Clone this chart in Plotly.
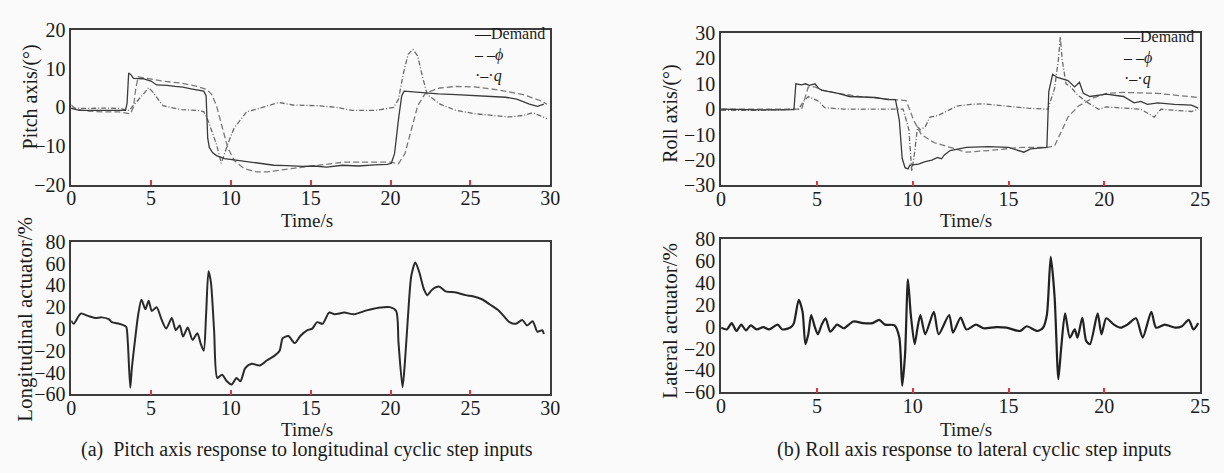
import plotly.graph_objects as go

W, H = 1224, 473

# ---------------- (a) pitch axis ----------------
pitch_demand_t = [0, 0.5, 1.5, 2.5, 3.4, 3.5, 3.6, 3.75, 3.9, 4.5, 5.0, 5.35, 6.0, 6.5, 7.0, 7.5, 8.0,
                  8.3, 8.45, 8.55, 8.65, 8.85, 9.1, 9.6, 10.2, 11.0, 12.0, 12.7, 13.5, 14.5, 15.2, 16.0,
                  17.0, 18.0, 19.0, 19.8, 20.05, 20.25, 20.5, 20.7, 20.85, 21.5, 22.0, 23.0, 24.1, 25.0,
                  26.2, 27.2, 27.9, 28.7, 29.2, 29.6]
pitch_demand = [-0.3, -0.8, -0.8, -0.9, -0.8, 1.0, 8.9, 8.4, 7.5, 7.4, 6.8, 5.8, 5.7, 5.4, 5.2, 4.8, 4.5,
                4.2, 3.0, -8.0, -10.4, -11.7, -12.5, -13.3, -13.6, -14.0, -14.6, -15.0, -15.1, -15.3, -15.2,
                -15.5, -15.0, -15.2, -14.9, -14.8, -14.5, -12.0, -3.0, 3.0, 4.2, 4.0, 3.75, 3.5, 3.3, 3.1,
                2.9, 2.6, 2.1, 0.8, 0.25, 0.8]

pitch_phi_t = [0, 0.3, 1, 2, 3, 3.7, 3.9, 4.05, 4.2, 4.7, 5.9, 6.9, 7.9, 8.5, 8.8, 9.1, 9.5, 9.8, 10.2,
               10.8, 11.6, 12.3, 13.9, 15.4, 17.1, 20.0, 20.5, 20.9, 21.3, 21.7, 22.2, 23.1, 24.1, 25.35,
               26.6, 28.3, 29.4, 29.8]
pitch_phi = [0.6, -0.5, -1.0, -1.2, -1.2, -1.7, 0.0, 5.0, 7.9, 7.5, 6.7, 6.25, 5.4, 4.6, 3.3, 0.4, -5.4,
             -10.4, -13.75, -15.8, -16.7, -16.7, -15.8, -15.0, -14.2, -14.2, -14.6, -12.0, -5.4, 0.4, 3.75,
             5.0, 5.4, 5.25, 4.6, 3.3, 1.7, 0.8]

pitch_q_t = [0, 1, 2, 3, 3.65, 3.87, 4.5, 4.85, 5.1, 5.75, 6.9, 7.9, 8.3, 8.6, 9.1, 9.4, 9.8, 10.2, 11.0,
             11.8, 13.0, 13.9, 15.4, 16.6, 17.6, 19.1, 20.2, 20.5, 20.8, 21.1, 21.4, 21.7, 22.0, 22.3,
             23.1, 24.1, 25.35, 26.2, 27.4, 28.3, 28.9, 29.8]
pitch_q = [-0.2, -0.3, -0.2, -0.3, -0.8, 0.4, 3.3, 5.1, 4.0, 0.4, -0.6, -0.8, -1.1, -3.75, -9.6, -14.5,
           -9.6, -5.4, -1.1, -0.25, 1.25, 0.6, 0.4, 0.0, -0.8, -0.8, 0.0, 2.1, 8.75, 13.75, 15.0, 13.3,
           7.9, 3.3, 0.8, -0.8, -1.7, -2.1, -2.5, -2.1, -1.4, -2.9]

long_act_t = [0, 0.15, 0.6, 1.05, 1.5, 1.9, 2.35, 2.55, 3.0, 3.3, 3.45, 3.55, 3.7, 3.8, 4.0, 4.2, 4.4,
              4.65, 4.85, 5.05, 5.35, 5.65, 5.95, 6.3, 6.55, 6.8, 7.0, 7.3, 7.6, 7.9, 8.1, 8.3, 8.45, 8.6,
              8.75, 8.95, 9.15, 9.45, 9.75, 10.05, 10.35, 10.6, 10.9, 11.3, 11.8, 12.25, 12.7, 13.05,
              13.25, 13.6, 14.0, 14.35, 14.8, 15.1, 15.4, 15.75, 16.15, 16.5, 17.1, 17.7, 18.5, 19.25,
              19.95, 20.35, 20.5, 20.75, 20.9, 21.1, 21.3, 21.55, 21.8, 22.1, 22.3, 22.6, 23.05, 23.45,
              24.1, 24.7, 25.15, 25.75, 26.2, 26.8, 27.45, 27.85, 28.25, 28.55, 28.9, 29.2, 29.5, 29.6]
long_act = [7.6, 4.7, 14.0, 12.0, 10.0, 10.6, 9.0, 6.2, 4.7, 3.2, 1.8, -13.0, -54.0, -36.0, -10.0, 13.5,
            26.8, 18.0, 25.9, 16.5, 20.0, 9.0, 0.3, 10.0, -1.2, 3.2, -7.0, 1.2, -10.0, -4.0, -13.0, -20.0,
            13.5, 53.0, 43.0, -1.2, -45.0, -42.0, -48.0, -51.0, -45.0, -48.0, -36.0, -32.0, -33.5, -29.0,
            -25.0, -20.0, -8.5, -6.5, -13.0, -6.5, -1.2, 0.3, 6.2, 4.7, 15.0, 13.5, 15.0, 13.5, 17.0, 19.4,
            20.0, 16.5, -13.0, -53.5, -30.6, 13.5, 48.8, 61.0, 52.0, 36.0, 31.0, 36.0, 38.8, 34.4, 33.5,
            31.0, 30.0, 27.0, 22.6, 16.5, 6.2, 4.7, 8.2, 3.2, 7.0, -2.6, -1.2, -4.7]

# ---------------- (b) roll axis ----------------
roll_demand_t = [0, 1, 2, 3, 3.8, 3.9, 4.2, 4.4, 4.6, 4.9, 5.1, 5.25, 6.1, 6.7, 8.05, 8.7, 9.1, 9.3, 9.45,
                 9.6, 9.75, 9.85, 10.3, 10.65, 11.0, 11.3, 11.5, 11.65, 11.95, 12.8, 13.95, 15.0, 15.45,
                 15.8, 16.15, 16.85, 17.0, 17.1, 17.3, 17.55, 18.1, 18.45, 18.7, 18.9, 19.25, 20.1, 21.0,
                 21.55, 21.9, 22.25, 22.8, 23.65, 24.55, 24.9]
roll_demand = [0.0, -0.2, -0.3, -0.3, -0.2, 10.0, 9.6, 10.0, 9.4, 10.0, 8.1, 7.5, 6.25, 5.0, 4.6, 3.75,
               3.75, -4.4, -19.4, -23.0, -23.5, -22.0, -21.6, -20.6, -20.0, -19.0, -19.5, -18.0, -16.25,
               -15.0, -14.75, -15.0, -16.0, -16.9, -15.6, -15.0, -15.0, 6.9, 13.75, 12.5, 11.25, 8.75,
               10.6, 6.25, 5.0, 5.9, 5.0, 2.5, 3.1, 1.9, 2.5, 1.9, 1.6, 0.4]

roll_phi_t = [0, 2, 4.2, 4.55, 4.9, 5.25, 6.1, 7.2, 9.0, 9.65, 9.8, 10.05, 10.45, 11.1, 11.95, 12.8, 13.95,
              15.7, 17.05, 17.4, 17.8, 18.1, 18.65, 19.4, 20.1, 21.0, 22.75, 24.9]
roll_phi = [0.0, 0.0, 0.0, 8.75, 8.75, 7.5, 6.25, 5.0, 3.75, 3.4, 0.6, -4.4, -10.0, -13.1, -15.0, -16.9,
            -16.25, -15.0, -15.0, -14.4, -8.1, -3.1, 1.25, 4.4, 6.25, 6.6, 6.25, 4.6]

roll_q_t = [0, 2, 4.05, 4.3, 4.55, 5.1, 5.4, 5.75, 6.4, 9.0, 9.5, 9.8, 9.95, 10.1, 10.25, 10.4, 10.65,
            10.9, 11.3, 11.65, 12.3, 13.0, 13.7, 14.85, 16.0, 17.05, 17.4, 17.6, 17.7, 17.8, 18.0, 18.25,
            18.6, 19.15, 19.7, 20.1, 21.0, 21.9, 22.6, 22.95, 23.65, 24.55, 24.9]
roll_q = [-0.4, -0.4, 0.0, 3.1, 5.0, 3.1, 0.6, 0.3, 0.0, 0.0, 0.0, -8.1, -24.4, -16.9, -6.9, -8.1, -6.9,
          -3.1, -2.5, -1.25, 1.25, 1.9, 2.1, 1.25, 0.4, 0.0, 8.1, 19.4, 28.4, 19.4, 10.0, 8.75, 5.6, 2.5,
          0.0, 0.9, 0.4, 0.0, -3.1, 0.0, -0.4, -0.9, 0.0]

lat_act_t = [0, 0.3, 0.55, 0.8, 1.05, 1.3, 1.55, 1.85, 2.2, 2.5, 2.95, 3.2, 3.65, 3.8, 4.05, 4.25, 4.4,
             4.55, 4.7, 4.9, 5.05, 5.25, 5.45, 5.7, 6.05, 6.4, 6.9, 7.4, 7.9, 8.25, 8.55, 9.05, 9.3, 9.45,
             9.6, 9.75, 9.9, 10.1, 10.25, 10.4, 10.65, 11.1, 11.35, 11.9, 12.1, 12.5, 12.8, 13.3, 13.7,
             14.35, 14.9, 15.6, 15.95, 16.5, 16.8, 17.0, 17.2, 17.4, 17.55, 17.6, 17.75, 17.95, 18.2,
             18.45, 18.6, 18.85, 19.05, 19.25, 19.65, 19.85, 20.1, 20.5, 20.85, 21.2, 21.65, 22.0, 22.45,
             22.7, 23.15, 23.7, 24.05, 24.4, 24.65, 24.9]
lat_act = [-1.0, -2.6, 3.2, -4.0, 1.8, -3.5, 1.2, -2.6, -0.5, -2.6, 1.8, -2.6, -0.5, 3.2, 24.5, 13.5,
           -16.0, -7.0, 10.6, -1.0, -7.0, 1.8, 7.6, -4.7, 1.8, -1.5, 4.7, 3.2, 3.2, 6.2, 1.8, 1.2, -10.0,
           -54.0, -25.0, 43.0, 10.6, -16.0, -1.0, 10.6, -7.0, 13.5, -7.0, 10.6, -5.5, 8.2, -2.6, 1.8, -1.5,
           -0.5, -1.0, -4.0, 0.3, -4.0, -1.0, 10.6, 63.5, 28.0, -36.0, -48.0, -19.0, 12.0, -10.0, -2.6,
           -10.0, 8.2, -13.0, -16.0, 12.0, -7.0, 7.6, 1.8, -1.0, 1.8, 7.6, -10.0, 13.5, -1.0, 1.8, -1.0,
           0.3, 6.2, -2.6, 3.2]

# tick labels
time_ticks_a = [0, 5, 10, 15, 20, 25, 30]
time_ticks_b = [0, 5, 10, 15, 20, 25]
pitch_ticks = [-20, -10, 0, 10, 20]
roll_ticks = [-30, -20, -10, 0, 10, 20, 30]
act_ticks = [-60, -40, -20, 0, 20, 40, 60, 80]

FONT = "Liberation Serif"
INK = "#1b1b1b"


def xdom(a, b):
    return [a / W, b / W]


def ydom(top, bottom):
    return [1 - bottom / H, 1 - top / H]


def py(v):
    return 1 - v / H


fig = go.Figure()


def add_line(x, y, ax, color, dash, width, shape="linear"):
    fig.add_trace(go.Scatter(x=x, y=y, xaxis="x" + ax, yaxis="y" + ax, mode="lines",
                             line=dict(color=color, dash=dash, width=width, shape=shape, smoothing=0.7),
                             showlegend=False, hoverinfo="skip"))


DASH = "6px,3px"
DASHDOT = "5px,2px,1px,2px"

add_line(pitch_q_t, pitch_q, "", "#6a6a6a", DASHDOT, 1.3)
add_line(pitch_phi_t, pitch_phi, "", "#7a7a7a", DASH, 1.3)
add_line(pitch_demand_t, pitch_demand, "", "#3a3a3a", "solid", 1.3)
add_line(roll_q_t, roll_q, "2", "#6a6a6a", DASHDOT, 1.3)
add_line(roll_phi_t, roll_phi, "2", "#7a7a7a", DASH, 1.3)
add_line(roll_demand_t, roll_demand, "2", "#3a3a3a", "solid", 1.3)
add_line(long_act_t, long_act, "3", "#2a2a2a", "solid", 2, "spline")
add_line(lat_act_t, lat_act, "4", "#222222", "solid", 2.2, "spline")

tickfont = dict(family=FONT, size=20, color=INK)


def xax(dom, anchor, rng, vals):
    return dict(domain=dom, anchor=anchor, range=rng, tickvals=vals, showline=True, mirror=True,
                linecolor="#3c3c3c", linewidth=1.5, showgrid=False, zeroline=False,
                ticks="inside", ticklen=5, tickwidth=1.5, tickcolor="#e8333a",
                ticklabelstandoff=-5, tickfont=tickfont, fixedrange=True)


def yax(dom, anchor, rng, vals):
    return dict(domain=dom, anchor=anchor, range=rng, tickvals=vals, showline=True, mirror=True,
                linecolor="#3c3c3c", linewidth=1.5, showgrid=False, zeroline=False,
                ticks="", tickfont=tickfont, fixedrange=True)


fig.update_layout(
    width=W, height=H, margin=dict(l=0, r=0, t=0, b=0),
    paper_bgcolor="#fafafa", plot_bgcolor="#fafafa",
    font=dict(family=FONT, color=INK),
    xaxis=xax(xdom(67, 552), "y", [0, 30], time_ticks_a),
    yaxis=yax(ydom(20, 182), "x", [-20, 20], pitch_ticks),
    xaxis2=xax(xdom(725, 1210), "y2", [0, 25], time_ticks_b),
    yaxis2=yax(ydom(23, 183), "x2", [-30, 30], roll_ticks),
    xaxis3=xax(xdom(67, 552), "y3", [0, 30], time_ticks_a),
    yaxis3=yax(ydom(242, 402), "x3", [-60, 80], act_ticks),
    xaxis4=xax(xdom(725, 1210), "y4", [0, 25], time_ticks_b),
    yaxis4=yax(ydom(239, 400), "x4", [-60, 80], act_ticks),
)

ann = []


def text(s, x, y, size=20, angle=0, xanchor="center", yanchor="middle", align="center"):
    ann.append(dict(text=s, x=x / W, y=py(y), xref="paper", yref="paper", showarrow=False,
                    textangle=angle, xanchor=xanchor, yanchor=yanchor, align=align, borderpad=0,
                    font=dict(family=FONT, size=size, color=INK)))


# axis titles
text("Pitch axis/(°)", 26, 90, angle=-90)
text("Roll axis/(°)", 673, 107, angle=-90)
text("Longitudinal actuator/%", 20, 323, size=21, angle=-90)
text("Lateral actuator/%", 673, 325, size=21, angle=-90)
text("Time/s", 306, 208, size=19, yanchor="top")
text("Time/s", 973, 208, size=19, yanchor="top")
text("Time/s", 306, 427, size=19, yanchor="top")
text("Time/s", 973, 427, size=19, yanchor="top")

# captions
text("(a)  Pitch axis response to longitudinal cyclic step inputs", 306, 473, size=20, yanchor="bottom")
text("(b) Roll axis response to lateral cyclic step inputs", 982, 473, size=20, yanchor="bottom")

# legends
legend_txt = "—Demand<br>– –<i>ϕ</i><br>·–·<i>q</i>"
text(legend_txt, 474, 14, size=16, xanchor="left", yanchor="top", align="left")
text(legend_txt, 1131, 17, size=16, xanchor="left", yanchor="top", align="left")

fig.update_layout(annotations=ann)

fig.write_html("out.html", config={"displayModeBar": False},
               post_script="document.body.style.margin='0';document.body.style.overflow='hidden';")
